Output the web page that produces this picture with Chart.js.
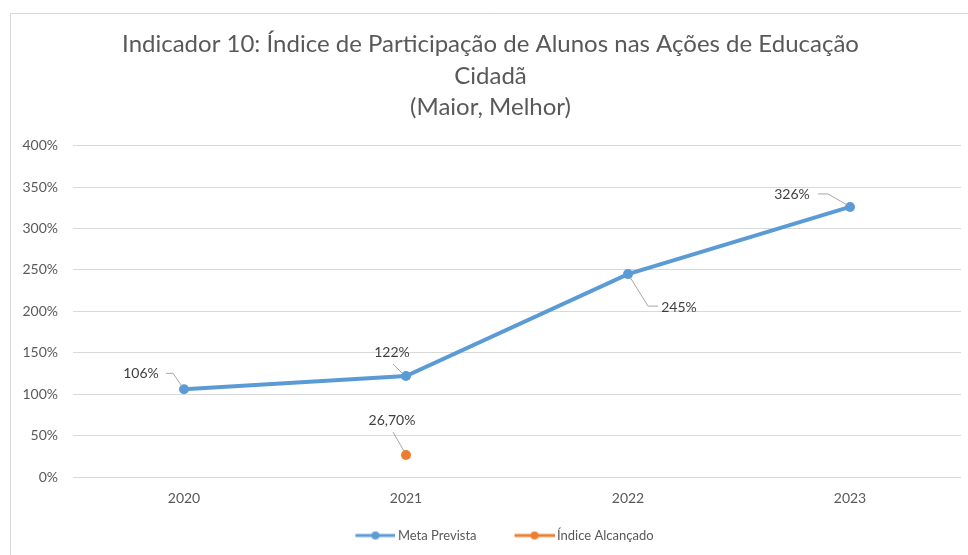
<!DOCTYPE html>
<html>
<head>
<meta charset="utf-8">
<script src="https://cdn.jsdelivr.net/npm/chart.js@4.4.0/dist/chart.umd.min.js"></script>
<style>
  html, body { margin: 0; padding: 0; background: #ffffff; }
  #wrap { position: relative; width: 968px; height: 555px; }
</style>
</head>
<body>
<div id="wrap"><canvas id="myChart" width="968" height="555"></canvas></div>
<script>
// chart data
const years = ["2020", "2021", "2022", "2023"];
const metaPrevista = [106, 122, 245, 326];          // percent
const indiceAlcancado = [null, 26.7, null, null];   // percent
const yTicks = [0, 50, 100, 150, 200, 250, 300, 350, 400];
const titleLines = [
  "Indicador 10: Índice de Participação de Alunos nas Ações de Educação",
  "Cidadã",
  "(Maior, Melhor)"
];

const blue = "#5B9BD5";
const orange = "#ED7D31";
const textGrey = "#595959";
const fontName = "Lato, 'Open Sans', sans-serif";

// where each data label sits relative to its point (text centre + leader path)
const labelStyle = [
  [
    { dx: -43, dy: -16, path: [[-18, -16], [-11, -16], [-2, -3]] },
    { dx: -14, dy: -24, path: [[-13, -12], [-3, -2]] },
    { dx: 51, dy: 33, path: [[2, 3], [20, 32], [30, 32]] },
    { dx: -58, dy: -12, path: [[-32, -13], [-22, -13], [-3, -2]] }
  ],
  [
    null,
    { dx: -14, dy: -35, path: [[-13, -23], [-2, -4]] },
    null,
    null
  ]
];

function fmtLabel(dsIndex, v) {
  if (dsIndex === 0) return Math.round(v) + "%";
  return v.toFixed(2).replace(".", ",") + "%";
}

// legend marker: blank lead-in (item gap) then a line with a dot.
// canvas is a bit wider than the legend box so the line sits close to the text
function legendMarker(color) {
  const c = document.createElement("canvas");
  c.width = 72;
  c.height = 12;
  const g = c.getContext("2d");
  g.strokeStyle = color;
  g.lineWidth = 3;
  g.beginPath();
  g.moveTo(32, 6);
  g.lineTo(72, 6);
  g.stroke();
  g.fillStyle = color;
  g.beginPath();
  g.arc(52, 6, 4, 0, Math.PI * 2);
  g.fill();
  return c;
}

// frame + data labels
const extras = {
  id: "extras",
  beforeDraw(chart) {
    const c = chart.ctx;
    c.save();
    c.fillStyle = "#ffffff";
    c.fillRect(0, 0, chart.width, chart.height);
    c.strokeStyle = "#d9d9d9";
    c.lineWidth = 1;
    c.beginPath();
    c.moveTo(10.5, chart.height);
    c.lineTo(10.5, 13.5);
    c.lineTo(chart.width, 13.5);
    c.stroke();
    c.restore();
  },
  afterDatasetsDraw(chart) {
    const c = chart.ctx;
    c.save();
    c.font = "14px " + fontName;
    c.textAlign = "center";
    c.textBaseline = "middle";
    chart.data.datasets.forEach((ds, di) => {
      const meta = chart.getDatasetMeta(di);
      ds.data.forEach((v, i) => {
        const st = labelStyle[di][i];
        if (v === null || !st) return;
        const p = meta.data[i];
        c.strokeStyle = "#a6a6a6";
        c.lineWidth = 1;
        c.beginPath();
        st.path.forEach((q, k) => {
          if (k === 0) c.moveTo(p.x + q[0], p.y + q[1]);
          else c.lineTo(p.x + q[0], p.y + q[1]);
        });
        c.stroke();
        c.fillStyle = "#404040";
        c.fillText(fmtLabel(di, v), p.x + st.dx, p.y + st.dy);
      });
    });
    c.restore();
  }
};

const ctx = document.getElementById("myChart").getContext("2d");
const myChart = new Chart(ctx, {
  type: "line",
  data: {
    labels: years,
    datasets: [
      {
        label: "Meta Prevista",
        data: metaPrevista,
        borderColor: blue,
        backgroundColor: blue,
        borderWidth: 4,
        pointRadius: 5,
        pointBorderWidth: 0,
        tension: 0
      },
      {
        label: "Índice Alcançado",
        data: indiceAlcancado,
        borderColor: orange,
        backgroundColor: orange,
        borderWidth: 4,
        pointRadius: 5,
        pointBorderWidth: 0,
        spanGaps: false
      }
    ]
  },
  options: {
    responsive: false,
    animation: false,
    layout: { padding: { left: 20, right: 7, top: 12, bottom: 3 } },
    plugins: {
      tooltip: { enabled: false },
      title: {
        display: true,
        text: titleLines,
        color: textGrey,
        font: { family: fontName, size: 24, weight: "normal", lineHeight: 1.3 },
        padding: { top: 17, bottom: 23 }
      },
      legend: {
        position: "bottom",
        labels: {
          color: textGrey,
          font: { family: fontName, size: 13 },
          usePointStyle: true,
          pointStyleWidth: 64,
          padding: 10,
          generateLabels(chart) {
            const items = Chart.defaults.plugins.legend.labels.generateLabels(chart);
            items.forEach((it) => {
              it.pointStyle = legendMarker(it.datasetIndex === 0 ? blue : orange);
            });
            return items;
          }
        }
      }
    },
    scales: {
      x: {
        offset: true,
        grid: { display: false },
        border: { display: false },
        ticks: { color: textGrey, font: { family: fontName, size: 14 }, padding: 5 },
        afterFit(scale) {
          scale.height = scale.height + 7;
        }
      },
      y: {
        min: 0,
        max: 400,
        afterBuildTicks(scale) {
          scale.ticks = yTicks.map((v) => ({ value: v }));
        },
        afterFit(scale) {
          scale.width = 53;
        },
        grid: { color: "#d9d9d9", drawTicks: false },
        border: { display: false },
        ticks: {
          color: textGrey,
          font: { family: fontName, size: 14 },
          padding: 15,
          callback: (v) => v + "%"
        }
      }
    }
  },
  plugins: [extras]
});
</script>
</body>
</html>
